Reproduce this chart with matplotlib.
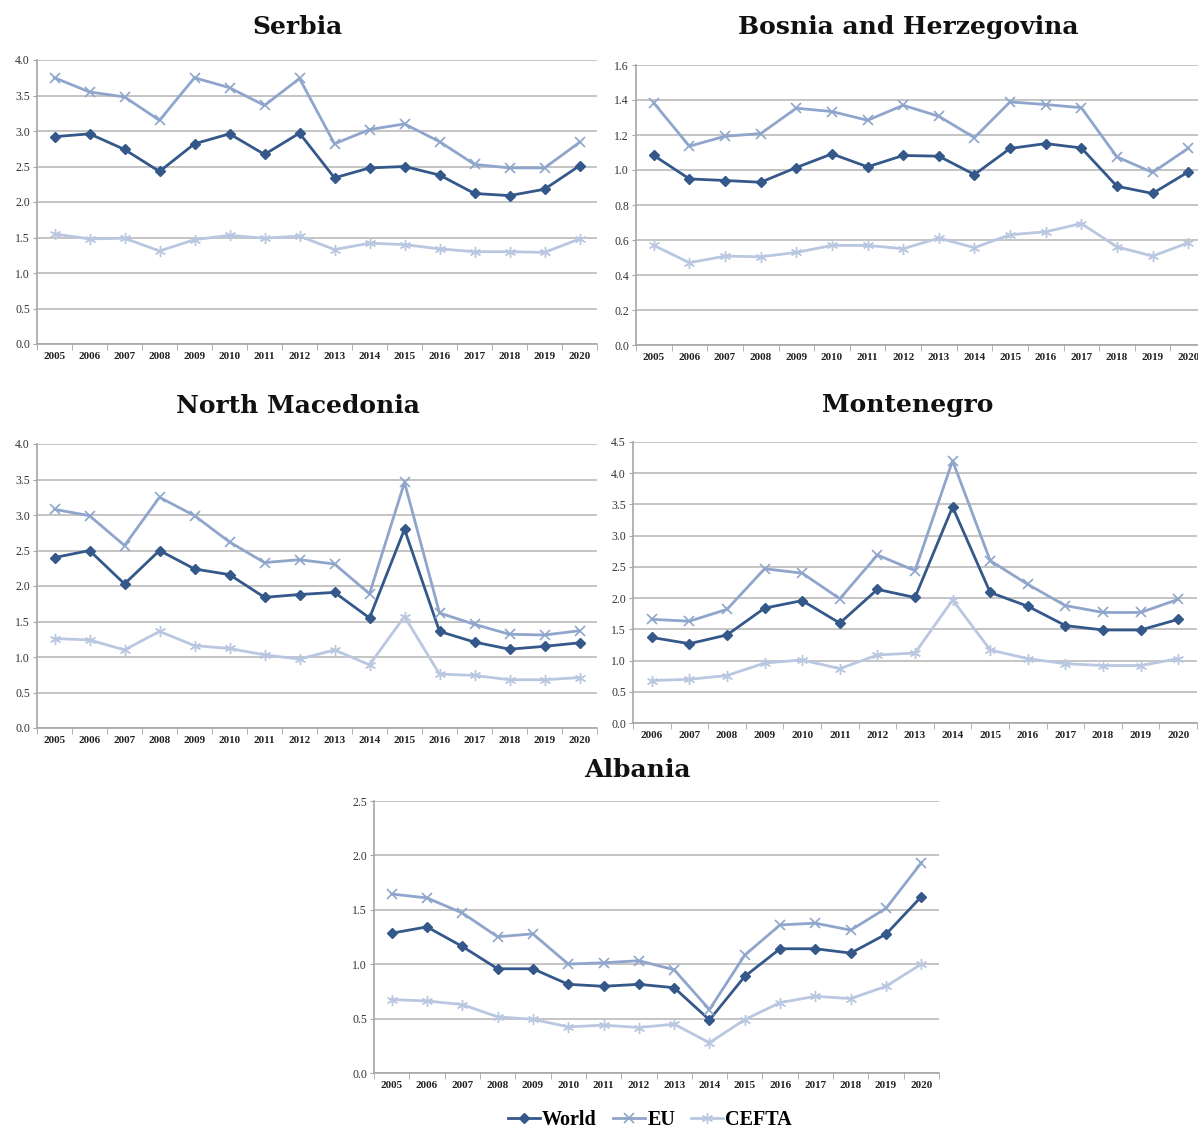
import matplotlib
matplotlib.use("Agg")
import matplotlib.pyplot as plt
from matplotlib.lines import Line2D

years_full = [str(y) for y in range(2005, 2021)]
years_mne = [str(y) for y in range(2006, 2021)]

serbia_world = [2.92, 2.96, 2.74, 2.43, 2.82, 2.96, 2.67, 2.97, 2.34, 2.48, 2.50, 2.38, 2.12, 2.09, 2.18, 2.51]
serbia_eu = [3.75, 3.55, 3.48, 3.15, 3.75, 3.61, 3.36, 3.74, 2.82, 3.02, 3.10, 2.85, 2.53, 2.48, 2.48, 2.84]
serbia_cefta = [1.55, 1.48, 1.49, 1.31, 1.47, 1.53, 1.49, 1.52, 1.33, 1.42, 1.40, 1.34, 1.30, 1.30, 1.29, 1.48]

bih_world = [1.083, 0.949, 0.94, 0.93, 1.014, 1.092, 1.018, 1.083, 1.079, 0.974, 1.123, 1.151, 1.126, 0.907, 0.866, 0.989]
bih_eu = [1.383, 1.136, 1.193, 1.208, 1.353, 1.334, 1.284, 1.370, 1.307, 1.185, 1.389, 1.374, 1.356, 1.075, 0.986, 1.124]
bih_cefta = [0.569, 0.470, 0.508, 0.504, 0.529, 0.569, 0.569, 0.55, 0.611, 0.556, 0.63, 0.647, 0.694, 0.561, 0.508, 0.584]

mkd_world = [2.40, 2.50, 2.03, 2.50, 2.24, 2.16, 1.84, 1.88, 1.91, 1.55, 2.80, 1.36, 1.21, 1.11, 1.15, 1.20]
mkd_eu = [3.08, 2.99, 2.57, 3.25, 2.99, 2.62, 2.33, 2.37, 2.31, 1.89, 3.46, 1.62, 1.46, 1.32, 1.31, 1.37]
mkd_cefta = [1.26, 1.24, 1.10, 1.36, 1.16, 1.12, 1.03, 0.97, 1.10, 0.89, 1.57, 0.76, 0.74, 0.68, 0.68, 0.71]

mne_world = [1.37, 1.27, 1.41, 1.84, 1.96, 1.60, 2.14, 2.01, 3.46, 2.09, 1.87, 1.56, 1.49, 1.49, 1.66]
mne_eu = [1.66, 1.63, 1.82, 2.47, 2.40, 1.99, 2.69, 2.44, 4.20, 2.60, 2.22, 1.88, 1.77, 1.77, 1.98]
mne_cefta = [0.68, 0.70, 0.76, 0.96, 1.01, 0.87, 1.09, 1.12, 1.97, 1.17, 1.03, 0.95, 0.92, 0.92, 1.03]

alb_world = [1.285, 1.343, 1.163, 0.958, 0.958, 0.815, 0.797, 0.815, 0.784, 0.488, 0.888, 1.142, 1.142, 1.102, 1.276, 1.621]
alb_eu = [1.645, 1.609, 1.471, 1.252, 1.279, 1.001, 1.013, 1.032, 0.949, 0.583, 1.084, 1.361, 1.377, 1.313, 1.514, 1.932]
alb_cefta = [0.675, 0.662, 0.629, 0.516, 0.494, 0.424, 0.44, 0.418, 0.449, 0.278, 0.491, 0.647, 0.705, 0.684, 0.797, 1.001]

series_names = ["World", "EU", "CEFTA"]

W, H = 1198, 1131
fig = plt.figure(figsize=(W / 100, H / 100), dpi=100)

C_WORLD = "#34588A"
C_EU = "#8FA5CB"
C_CEFTA = "#BAC7E0"
STAR = (6, 2, 0)
styles = [
    dict(color=C_WORLD, marker="D", markersize=5, lw=2.0, mew=1.0),
    dict(color=C_EU, marker="x", markersize=7, lw=2.0, mew=1.2),
    dict(color=C_CEFTA, marker=STAR, markersize=8, lw=2.0, mew=1.0),
]

serif = "Liberation Serif"
title_font = "DejaVu Serif"


def make_axes(px_left, px_right, px_top, px_bottom):
    return fig.add_axes([px_left / W, 1 - px_bottom / H,
                         (px_right - px_left) / W, (px_bottom - px_top) / H])


def panel(ax, years, data, ymax, ystep, title, tx, ty):
    n = len(years)
    xs = list(range(n))
    for vals, st in zip(data, styles):
        ax.plot(xs, vals, zorder=3, clip_on=False, **st)
    ax.set_xlim(-0.5, n - 0.5)
    ax.set_ylim(0, ymax)
    nt = int(round(ymax / ystep))
    yt = [i * ystep for i in range(nt + 1)]
    ax.set_yticks(yt)
    ax.set_yticklabels([f"{v:.1f}" for v in yt], fontfamily=serif, fontsize=8.5, color="#333333")
    ax.set_xticks(xs)
    ax.set_xticklabels(years, fontfamily=serif, fontsize=8, fontweight="bold", color="#222222")
    ax.set_xticks([i - 0.5 for i in range(n + 1)], minor=True)
    ax.tick_params(axis="x", which="major", length=0, pad=6)
    ax.tick_params(axis="x", which="minor", length=4, color="#A6A6A6", direction="out")
    ax.tick_params(axis="y", length=3, color="#A6A6A6", pad=2)
    ax.grid(axis="y", color="#BFBFBF", lw=1.3, zorder=0)
    ax.set_axisbelow(True)
    for s in ["top", "right"]:
        ax.spines[s].set_visible(False)
    for s in ["left", "bottom"]:
        ax.spines[s].set_color("#A6A6A6")
        ax.spines[s].set_linewidth(1.2)
    fig.text(tx / W, 1 - ty / H, title, ha="center", va="center",
             fontfamily=title_font, fontsize=18, fontweight="bold", color="#111111")


ax1 = make_axes(37, 597, 60, 344)
panel(ax1, years_full, [serbia_world, serbia_eu, serbia_cefta], 4.0, 0.5, "Serbia", 297, 27)

ax2 = make_axes(636, 1206, 65, 345)
panel(ax2, years_full, [bih_world, bih_eu, bih_cefta], 1.6, 0.2, "Bosnia and Herzegovina", 908, 27)

ax3 = make_axes(37, 597, 444, 728)
panel(ax3, years_full, [mkd_world, mkd_eu, mkd_cefta], 4.0, 0.5, "North Macedonia", 298, 406)

ax4 = make_axes(633, 1197, 442, 723)
panel(ax4, years_mne, [mne_world, mne_eu, mne_cefta], 4.5, 0.5, "Montenegro", 908, 405)

ax5 = make_axes(374, 939, 801, 1073)
panel(ax5, years_full, [alb_world, alb_eu, alb_cefta], 2.5, 0.5, "Albania", 637, 770)

handles = [Line2D([], [], **st) for st in styles]
fig.legend(handles, series_names, loc="center", bbox_to_anchor=(650 / W, 1 - 1120 / H),
           ncol=3, frameon=False, prop=dict(family=serif, size=14.5, weight="bold"),
           handlelength=1.6, handletextpad=0.1, columnspacing=0.8, borderaxespad=0)

fig.savefig("out.png", dpi=100)
